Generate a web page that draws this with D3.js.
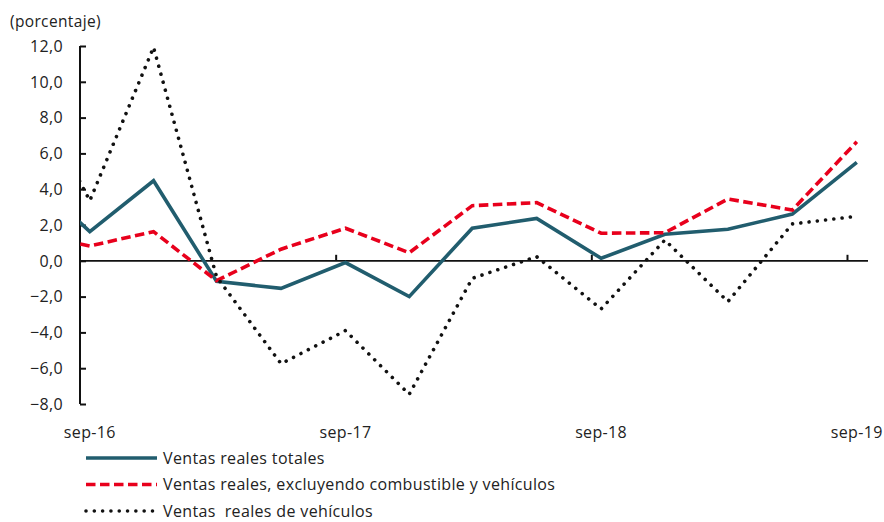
<!doctype html>
<html lang="es">
<head>
<meta charset="utf-8">
<script src="https://cdnjs.cloudflare.com/ajax/libs/d3/7.8.5/d3.min.js"></script>
<style>
  body { margin: 0; background: #fff; }
  svg text { font-family: "Open Sans", Lato, sans-serif; fill: #222; white-space: pre; letter-spacing: 0.35px; }
</style>
</head>
<body>
<svg width="884" height="522"></svg>
<script>

// quarterly observations (first one sits left of the axis and is clipped)
var dates = ["2016-06-15", "2016-09-15", "2016-12-15", "2017-03-15", "2017-06-15",
             "2017-09-15", "2017-12-15", "2018-03-15", "2018-06-15", "2018-09-15",
             "2018-12-15", "2019-03-15", "2019-06-15", "2019-09-15"];

var totales   = [5.0, 1.63, 4.47, -1.15, -1.54, -0.1, -2.0, 1.82, 2.37, 0.14, 1.48, 1.76, 2.61, 5.5];
var sinCombVeh = [1.55, 0.83, 1.63, -1.11, 0.65, 1.82, 0.45, 3.08, 3.25, 1.54, 1.57, 3.45, 2.84, 6.65];
var vehiculos = [10.2, 3.36, 11.93, -0.9, -5.75, -3.9, -7.46, -0.98, 0.23, -2.69, 1.16, -2.28, 2.06, 2.49];

var yTicks = [-8, -6, -4, -2, 0, 2, 4, 6, 8, 10, 12];
var xTickDates = ["2017-09-01", "2018-09-01", "2019-09-01"];
var xLabelDates = ["2016-09-15", "2017-09-15", "2018-09-15", "2019-09-15"];
var xLabels = ["sep-16", "sep-17", "sep-18", "sep-19"];

var legendNames = ["Ventas reales totales",
                   "Ventas reales, excluyendo combustible y vehículos",
                   "Ventas  reales de vehículos"];

var parse = d3.timeParse("%Y-%m-%d");
var fmt = function(v) { return d3.format(".1f")(v).replace(".", ","); };

var svg = d3.select("svg");

var x = d3.scaleTime()
    .domain([parse("2016-09-01"), parse("2019-10-01")])
    .range([80, 868]);
var y = d3.scaleLinear().domain([-8, 12]).range([404, 46]);

svg.append("defs").append("clipPath").attr("id", "plot")
  .append("rect").attr("x", 80).attr("y", 0).attr("width", 804).attr("height", 450);

svg.append("text").attr("x", 10).attr("y", 27)
    .style("font-size", "15.5px").text("(porcentaje)");

// y axis, ticks pointing inward
var yAxis = svg.append("g").attr("transform", "translate(80,0)")
    .call(d3.axisRight(y).tickValues(yTicks).tickSize(6).tickFormat(""));
yAxis.select(".domain").attr("stroke", "#111").attr("stroke-width", 2)
    .attr("d", "M0," + y(12) + "V" + y(-8));
yAxis.selectAll(".tick line").attr("stroke", "#111").attr("stroke-width", 2);

svg.selectAll(".ylab").data(yTicks).enter().append("text")
    .attr("class", "ylab")
    .attr("x", 63).attr("y", function(d) { return y(d); })
    .attr("dy", "0.36em").attr("text-anchor", "end")
    .style("font-size", "16px").text(fmt);

// x axis on the zero line, ticks pointing up
var xAxis = svg.append("g").attr("transform", "translate(0," + y(0) + ")")
    .call(d3.axisTop(x).tickValues(xTickDates.map(parse)).tickSize(6).tickFormat(""));
xAxis.select(".domain").attr("stroke", "#111").attr("stroke-width", 1.8)
    .attr("d", "M80,0H868");
xAxis.selectAll(".tick line").attr("stroke", "#111").attr("stroke-width", 2);

svg.selectAll(".xlab").data(xLabelDates).enter().append("text")
    .attr("class", "xlab")
    .attr("x", function(d) { return x(parse(d)); }).attr("y", 438)
    .attr("text-anchor", "middle").style("font-size", "16px")
    .text(function(d, i) { return xLabels[i]; });

var series = [
  { values: totales, color: "#215d6e", dash: null, cap: "butt" },
  { values: sinCombVeh, color: "#e8001c", dash: "9.5 4.5", cap: "butt" },
  { values: vehiculos, color: "#111", dash: "0.01 8.3", cap: "round" }
];

var line = d3.line()
    .x(function(d) { return x(d[0]); })
    .y(function(d) { return y(d[1]); });

var plot = svg.append("g").attr("clip-path", "url(#plot)");
series.forEach(function(s) {
  var pts = dates.map(function(d, i) { return [parse(d), s.values[i]]; });
  plot.append("path")
      .attr("d", line(pts))
      .attr("fill", "none")
      .attr("stroke", s.color)
      .attr("stroke-width", 3.6)
      .attr("stroke-linejoin", "miter")
      .attr("stroke-linecap", s.cap)
      .attr("stroke-dasharray", s.dash);
});

// legend
var legend = svg.selectAll(".leg").data(series).enter().append("g")
    .attr("transform", function(d, i) { return "translate(0," + (458 + i * 26.5) + ")"; });
legend.append("line")
    .attr("x1", 86).attr("x2", 157)
    .attr("stroke", function(d) { return d.color; })
    .attr("stroke-width", 3.6)
    .attr("stroke-linecap", function(d) { return d.cap; })
    .attr("stroke-dasharray", function(d) { return d.dash; });
legend.append("text")
    .attr("x", 163).attr("dy", "0.36em")
    .style("font-size", "16px")
    .text(function(d, i) { return legendNames[i]; });

</script>
</body>
</html>
